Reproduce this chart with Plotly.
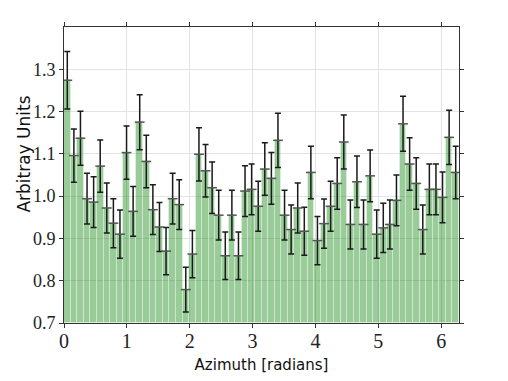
import math
import plotly.graph_objects as go

# 60 azimuth bins over [0, 2*pi]
n_bins = 60
bin_width = 2 * math.pi / n_bins
bin_centers = [(i + 0.5) * bin_width for i in range(n_bins)]

values = [
    1.274, 1.096, 1.137, 0.994, 0.986, 1.071, 0.972, 0.936, 0.910, 1.103,
    0.964, 1.175, 1.082, 0.968, 0.927, 0.870, 0.994, 0.980, 0.779, 0.863,
    1.099, 1.060, 1.020, 0.955, 0.859, 0.955, 0.859, 1.012, 1.016, 0.976,
    1.064, 1.042, 1.132, 0.955, 0.921, 0.972, 0.917, 1.056, 0.895, 0.935,
    0.976, 1.030, 1.128, 0.933, 1.034, 0.933, 1.048, 0.910, 0.925, 0.933,
    0.990, 1.171, 1.076, 1.030, 0.921, 1.016, 1.016, 0.997, 1.139, 1.056,
]

errors = [
    0.068, 0.063, 0.064, 0.060, 0.060, 0.062, 0.059, 0.058, 0.057, 0.063,
    0.059, 0.065, 0.062, 0.059, 0.058, 0.056, 0.060, 0.059, 0.053, 0.056,
    0.063, 0.062, 0.061, 0.059, 0.056, 0.059, 0.056, 0.060, 0.060, 0.059,
    0.062, 0.061, 0.064, 0.059, 0.058, 0.059, 0.057, 0.062, 0.057, 0.058,
    0.059, 0.061, 0.064, 0.058, 0.061, 0.058, 0.061, 0.057, 0.058, 0.058,
    0.060, 0.065, 0.062, 0.061, 0.058, 0.060, 0.060, 0.060, 0.064, 0.062,
]

x_ticks = [0, 1, 2, 3, 4, 5, 6]
y_ticks = [0.7, 0.8, 0.9, 1.0, 1.1, 1.2, 1.3]

SERIF = "Liberation Serif, Times New Roman, Times, serif"

fig = go.Figure()
fig.add_trace(go.Bar(
    x=bin_centers, y=[v - 0.7 for v in values], base=0.7,
    width=bin_width,
    marker=dict(color="rgba(0,128,0,0.4)",
                line=dict(color="rgba(255,255,255,0.35)", width=1)),
    hoverinfo="skip", showlegend=False,
))
fig.add_trace(go.Scatter(
    x=bin_centers, y=values, mode="markers",
    marker=dict(symbol="line-ew", size=7, color="rgba(0,0,0,0)",
                line=dict(color="#555555", width=1.5)),
    error_y=dict(type="data", array=errors, visible=True,
                 color="#1a1a1a", thickness=1.5, width=3),
    showlegend=False,
))

axis_common = dict(
    showline=True, linecolor="#333333", linewidth=1, mirror="ticks",
    ticks="outside", ticklen=4, tickcolor="#333333",
    showgrid=True, gridcolor="#e3e3e3", gridwidth=1, zeroline=False,
    automargin=False,
)

fig.update_layout(
    width=508, height=381,
    margin=dict(l=56, r=57, t=19, b=66),
    paper_bgcolor="white", plot_bgcolor="white",
    bargap=0,
    xaxis=dict(range=[0, 2 * math.pi], tickvals=x_ticks,
               ticktext=[str(t) for t in x_ticks],
               tickfont=dict(family=SERIF, size=20, color="#222222"),
               ticklabelstandoff=-4,
               title=dict(text="Azimuth [radians]", standoff=8,
                          font=dict(family="DejaVu Sans", size=15, color="#111111")),
               **axis_common),
    yaxis=dict(range=[0.7, 1.4], tickvals=y_ticks,
               ticktext=[f"{t:.1f}" for t in y_ticks],
               tickfont=dict(family=SERIF, size=18, color="#222222"),
               **axis_common),
    annotations=[dict(
        text="Arbitray Units", textangle=-90,
        xref="paper", yref="y", x=-0.102, y=1.1,
        xanchor="center", yanchor="middle", showarrow=False,
        font=dict(family="DejaVu Sans", size=17, color="#111111"),
    )],
)

fig.write_html("out.html")
